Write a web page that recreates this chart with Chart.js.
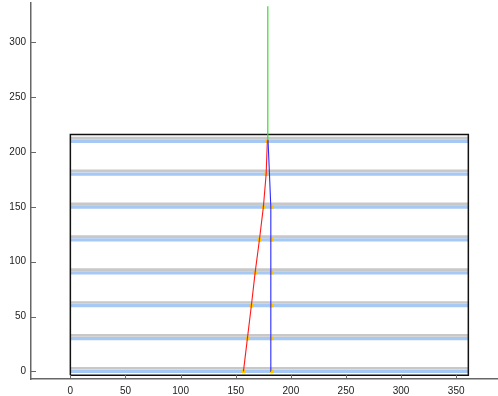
<!DOCTYPE html>
<html>
<head>
<meta charset="utf-8">
<script src="https://cdn.jsdelivr.net/npm/chart.js@4.4.0/dist/chart.umd.min.js"></script>
<style>
  body { margin: 0; background: #fff; }
  #wrap { width: 498px; height: 396px; position: relative; }
</style>
</head>
<body>
<div id="wrap"><canvas id="myChart"></canvas></div>
<script>
// floor levels (y) and the width of the frame (x)
const levels = [0, 30, 60, 90, 120, 150, 180, 210];
const frameX = [0, 361, 361, 0, 0];
const frameY = [-3.5, -3.5, 216, 216, -3.5];

// red and blue traces, one x per level, plus the apex
const redX = [157, 160.6, 164.2, 167.6, 171.5, 175.1, 177.6, 178.7];
const redY = [0, 30, 60, 90, 120, 150, 180, 210.5];
const blueX = [181.9, 181.9, 181.9, 181.9, 181.9, 181.6, 180.6, 179.3];
const blueY = [0, 30, 60, 90, 120, 150, 180, 211];
const greenX = [179.1, 179.1];
const greenY = [211, 333];

// yellow markers
const markX = [157, 160.6, 164.2, 167.6, 171.5, 175.1, 177.8, 178.5,
  182.3, 182.3, 182.3, 182.3, 182.3, 182.6];
const markY = [0, 30, 60, 90, 120, 150, 180, 210, 0, 30, 60, 90, 120, 150];

const xTicks = [0, 50, 100, 150, 200, 250, 300, 350];
const yTicks = [0, 50, 100, 150, 200, 250, 300];

const pts = (xs, ys) => xs.map((x, i) => ({ x: x, y: ys[i] }));

function bands(offset) {
  const out = [];
  levels.forEach((l) => {
    out.push({ x: frameX[0], y: l + offset });
    out.push({ x: frameX[1], y: l + offset });
    out.push({ x: frameX[1], y: null });
  });
  return out;
}

const lineDs = (data, color, width, order) => ({
  data: data,
  borderColor: color,
  borderWidth: width,
  pointRadius: 0,
  showLine: true,
  fill: false,
  tension: 0,
  spanGaps: false,
  order: order,
});

const innerTicks = {
  id: 'innerTicks',
  afterDraw(chart) {
    const { ctx, scales: { x, y }, chartArea } = chart;
    ctx.save();
    ctx.strokeStyle = '#666';
    ctx.lineWidth = 1;
    ctx.beginPath();
    xTicks.forEach((v) => {
      const px = Math.round(x.getPixelForValue(v)) + 0.5;
      ctx.moveTo(px, chartArea.bottom);
      ctx.lineTo(px, chartArea.bottom - 4);
    });
    yTicks.forEach((v) => {
      const py = Math.round(y.getPixelForValue(v)) + 0.5;
      ctx.moveTo(chartArea.left, py);
      ctx.lineTo(chartArea.left + 5, py);
    });
    ctx.stroke();
    ctx.restore();
  },
};

const noPad = (s) => {
  s.paddingTop = 0;
  s.paddingBottom = 0;
  s.paddingLeft = 0;
  s.paddingRight = 0;
};

const chartConfig = {
  type: 'scatter',
  data: {
    datasets: [
      lineDs(pts(greenX, greenY), '#33dd33', 1.2, 0),
      lineDs(pts(redX, redY), '#ff1a1a', 1.1, 1),
      lineDs(pts(blueX, blueY), '#2a2aff', 1.1, 1),
      lineDs(pts(frameX, frameY), '#111', 1.5, 2),
      {
        data: pts(markX, markY),
        pointStyle: 'rect',
        pointRadius: 2.6,
        pointBackgroundColor: '#ffc800',
        pointBorderWidth: 0,
        showLine: false,
        order: 3,
      },
      lineDs(bands(-0.1), '#a6c8f5', 3.3, 4),
      lineDs(bands(2.8), '#c8c8c8', 2.7, 5),
    ],
  },
  options: {
    responsive: true,
    maintainAspectRatio: false,
    animation: false,
    events: [],
    layout: { autoPadding: false, padding: { top: 3, right: 1, left: 0, bottom: 0 } },
    plugins: { legend: { display: false }, tooltip: { enabled: false } },
    scales: {
      x: {
        type: 'linear',
        min: -35.7,
        max: 387,
        grid: { display: false, drawTicks: false },
        border: { display: true, color: '#666', width: 1.5 },
        ticks: { color: '#222', padding: 6, font: { family: 'Liberation Sans', size: 10 } },
        afterBuildTicks: (s) => { s.ticks = xTicks.map((v) => ({ value: v })); },
        afterFit: (s) => { s.height = 17; noPad(s); },
      },
      y: {
        type: 'linear',
        min: -7,
        max: 336,
        grid: { display: false, drawTicks: false },
        border: { display: true, color: '#666', width: 1.5 },
        ticks: { color: '#222', padding: 5, font: { family: 'Liberation Sans', size: 10 } },
        afterBuildTicks: (s) => { s.ticks = yTicks.map((v) => ({ value: v })); },
        afterFit: (s) => { s.width = 31; noPad(s); },
      },
    },
  },
  plugins: [innerTicks],
};

const ctx = document.getElementById('myChart').getContext('2d');
const chart = new Chart(ctx, chartConfig);
</script>
</body>
</html>
